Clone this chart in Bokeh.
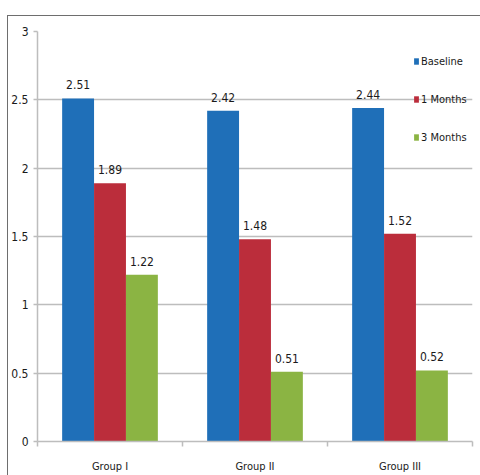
from bokeh.plotting import figure
from bokeh.models import FixedTicker, Legend, LegendItem, Range1d, ColumnDataSource, InlineStyleSheet
from bokeh.embed import file_html
from bokeh.resources import INLINE
from bokeh.core.properties import value

groups = ["Group I", "Group II", "Group III"]
series = ["Baseline", "1 Months", "3 Months"]
baseline = [2.51, 2.42, 2.44]
months1 = [1.89, 1.48, 1.52]
months3 = [1.22, 0.51, 0.52]
colors = ["#1f6fb8", "#bb2d3b", "#8bb443"]
y_ticks = [0, 0.5, 1, 1.5, 2, 2.5, 3]

FONT = "DejaVu Sans Condensed"
GRID = "#bdbdbd"
TXT = "#1a1a1a"

border_css = InlineStyleSheet(css="""
:host { position: relative; }
:host::after { content: ""; position: absolute; left: 7px; top: 15px; width: 600px; height: 600px;
  border: 1.5px solid #6e6e6e; pointer-events: none; box-sizing: border-box; }
""")

p = figure(width=480, height=475, x_range=Range1d(0, len(groups)), y_range=Range1d(0, 3),
           output_backend="svg", toolbar_location=None,
           min_border_left=37, min_border_right=8, min_border_top=31, min_border_bottom=34,
           stylesheets=[border_css])
p.outline_line_color = None
p.background_fill_color = "white"
p.border_fill_color = "white"

bar_w = 0.22
items = []
for i, (name, vals) in enumerate(zip(series, [baseline, months1, months3])):
    xs = [g + 0.5 + (i - 1) * bar_w for g in range(len(groups))]
    src = ColumnDataSource(dict(x=xs, top=vals, lab=[f"{v:.2f}" for v in vals]))
    r = p.vbar(x="x", top="top", width=bar_w, bottom=0, source=src, fill_color=colors[i], line_color=None)
    p.text(x="x", y="top", text="lab", source=src, text_align="center", text_baseline="bottom",
           y_offset=-9, text_font=value(FONT), text_font_size="12px", text_color=TXT)
    items.append(LegendItem(label=name, renderers=[r]))

legend = Legend(items=items, location=(376, 294), orientation="vertical",
                glyph_width=6, glyph_height=8, label_height=20, spacing=18,
                padding=0, margin=0, label_standoff=2,
                label_text_font=FONT, label_text_font_size="11px", label_text_color=TXT,
                background_fill_alpha=0, border_line_color=None)
p.add_layout(legend)

# y axis
p.yaxis.ticker = FixedTicker(ticks=y_ticks, minor_ticks=[])
p.yaxis.major_label_overrides = {t: f"{t:g}" for t in y_ticks}
p.yaxis.major_tick_out = 4
p.yaxis.major_tick_in = 0
p.yaxis.major_label_standoff = 5
p.yaxis.axis_line_color = GRID
p.yaxis.axis_line_width = 1.5
p.yaxis.major_tick_line_color = GRID
p.yaxis.major_tick_line_width = 1.5
p.yaxis.major_label_text_font = FONT
p.yaxis.major_label_text_font_size = "12px"
p.yaxis.major_label_text_color = TXT

# x axis
p.xaxis.ticker = FixedTicker(ticks=[g + 0.5 for g in range(len(groups))],
                             minor_ticks=list(range(len(groups) + 1)))
p.xaxis.major_label_overrides = {g + 0.5: name for g, name in enumerate(groups)}
p.xaxis.major_tick_out = 0
p.xaxis.major_tick_in = 0
p.xaxis.minor_tick_out = 5
p.xaxis.minor_tick_in = 0
p.xaxis.minor_tick_line_color = GRID
p.xaxis.minor_tick_line_width = 1.5
p.xaxis.major_label_standoff = 13
p.xaxis.axis_line_color = GRID
p.xaxis.axis_line_width = 1.5
p.xaxis.major_label_text_font = FONT
p.xaxis.major_label_text_font_size = "11px"
p.xaxis.major_label_text_color = TXT

p.xgrid.grid_line_color = None
p.ygrid.ticker = FixedTicker(ticks=y_ticks, minor_ticks=[])
p.ygrid.grid_line_color = GRID
p.ygrid.grid_line_width = 1.5

open("out.html", "w").write(file_html(p, INLINE))
